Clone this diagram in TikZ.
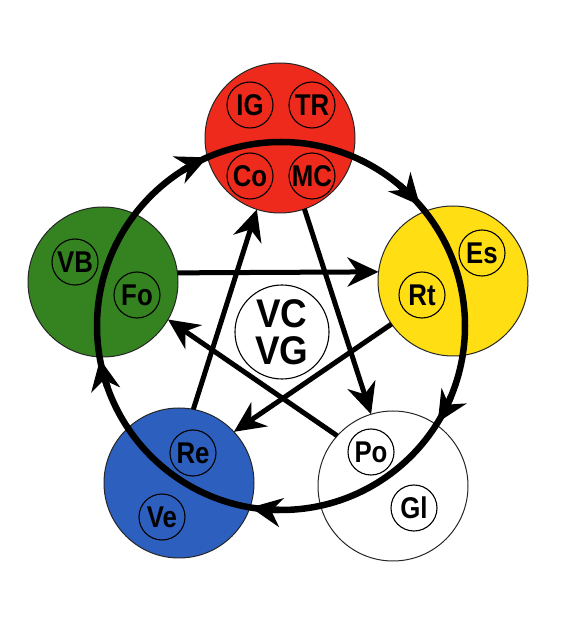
\documentclass[tikz,border=0pt]{standalone}
\usepackage{graphicx}
\usepackage{fontspec}
\setmainfont{Liberation Sans}
\usetikzlibrary{arrows.meta,calc}
\definecolor{cred}{RGB}{238,42,28}
\definecolor{cgreen}{RGB}{52,130,32}
\definecolor{cyellow}{RGB}{255,222,20}
\definecolor{cblue}{RGB}{45,95,190}
\newcommand{\lbl}[1]{\scalebox{0.86}[1]{#1}}
\begin{document}
\begin{tikzpicture}[x=1pt,y=1pt,
  big/.style={circle,draw=black!85,line width=1pt,minimum size=150pt,inner sep=0pt,outer sep=0pt},
  small/.style={circle,draw=black,line width=1.1pt,minimum size=46pt,inner sep=0pt,outer sep=0pt,
    font=\fontsize{30}{30}\selectfont\bfseries},
  tip/.style={-{Stealth[length=31pt,width=29pt,inset=10pt]}},
  conn/.style={line width=5pt,tip},
  ring/.style={line width=6.5pt}]
\useasboundingbox (0,0) rectangle (573,622);
% big circles
\node[big,fill=cred]    (R) at (280,484) {};
\node[big,fill=cgreen]  (G) at (103,340) {};
\node[big,fill=cyellow] (Y) at (453,341) {};
\node[big,fill=cblue]   (B) at (179,139) {};
\node[big,fill=white]   (W) at (393,136) {};
% centre
\node[circle,draw=black,line width=1.1pt,minimum size=94pt,inner sep=0pt,
  font=\fontsize{40}{38}\selectfont\bfseries,align=center] (C) at (282,290)
  {\scalebox{0.92}[1]{VC}\\[-1pt]\scalebox{0.92}[1]{VG}};
% small circles
\node[small] (IG) at (250,517) {\lbl{IG}};
\node[small] (TR) at (312,517) {\lbl{TR}};
\node[small] (Co) at (250,446) {\lbl{Co}};
\node[small] (MC) at (312,446) {\lbl{MC}};
\node[small] (VB) at (75,360) {\lbl{VB}};
\node[small] (Fo) at (137,327) {\lbl{Fo}};
\node[small] (Es) at (482,369) {\lbl{Es}};
\node[small] (Rt) at (422,327) {\lbl{Rt}};
\node[small] (Re) at (193,169) {\lbl{Re}};
\node[small] (Ve) at (162,105) {\lbl{Ve}};
\node[small] (Po) at (371,170) {\lbl{Po}};
\node[small] (Gl) at (414,114) {\lbl{Gl}};
% pentagram arrows
\draw[conn] (G.7.7) -- (Y.173);
\draw[conn] (Y.215) -- (B.43.4);
\draw[conn] (B.79.4) -- (R.252.9);
\draw[conn] (R.-71.6) -- (W.107.5);
\draw[conn] (W.138.5) -- (G.-30.8);
% big ring
\coordinate (O) at (281,296);
\draw[ring] (O) circle[radius=184];
\foreach \a in {113.6,41,-31.6,-99.5,190.4}{
  \draw[ring,tip] ($(O)+(\a+9:184)$) arc[start angle=\a+9,end angle=\a,radius=184];
}
\end{tikzpicture}
\end{document}
